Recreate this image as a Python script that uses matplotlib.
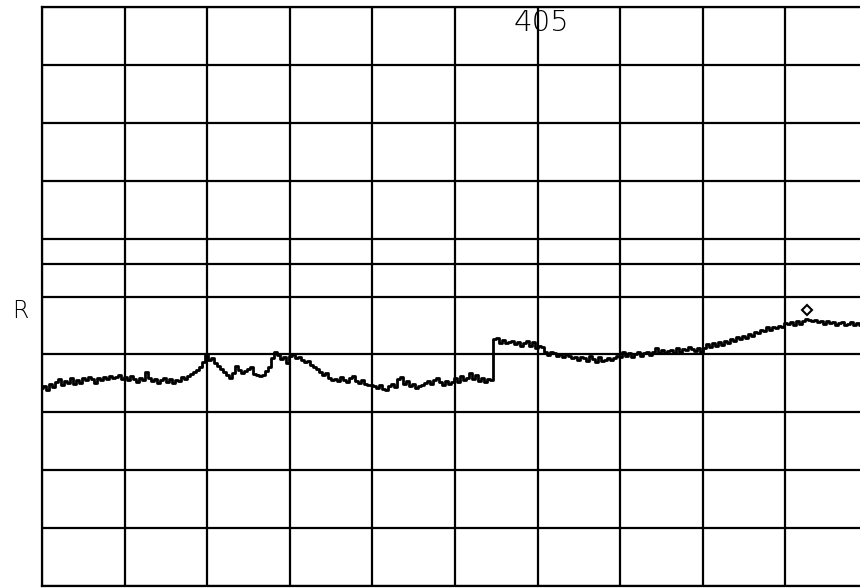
import numpy as np
import matplotlib
matplotlib.use("Agg")
import matplotlib.pyplot as plt

# 扫描迹线电平 (dB, 参考电平在顶部, 10 dB/格), 每个采样点间隔约 0.036 格
trace_db = [
    -65.8, -65.5, -66.1, -65.1, -65.6, -64.8, -64.2, -65.3, -64.6, -64.9, -64.1, -65.1,
    -64.4, -64.9, -64.1, -64.4, -63.9, -64.2, -64.9, -64.1, -64.4, -63.9, -64.2, -63.7,
    -64.1, -63.9, -63.6, -64.2, -63.9, -64.4, -63.7, -64.2, -64.8, -64.1, -64.4, -63.0,
    -64.1, -64.6, -64.2, -64.9, -64.4, -64.1, -64.8, -64.2, -64.9, -64.4, -64.6, -63.9,
    -64.2, -63.7, -63.4, -63.0, -62.7, -62.2, -61.3, -60.1, -61.0, -60.6, -61.5, -62.0,
    -62.5, -63.0, -63.6, -64.1, -63.2, -62.0, -62.7, -63.2, -62.9, -62.5, -62.2, -63.4,
    -63.6, -63.7, -63.6, -62.9, -62.2, -60.6, -59.6, -60.1, -60.8, -60.4, -61.5, -60.3,
    -59.9, -60.6, -60.4, -61.0, -61.3, -61.1, -61.8, -62.2, -62.5, -63.0, -63.6, -63.2,
    -64.1, -64.4, -64.2, -64.6, -63.9, -64.4, -64.8, -64.1, -63.7, -64.6, -64.9, -64.4,
    -65.1, -65.3, -65.3, -65.5, -65.8, -65.3, -66.0, -66.1, -65.5, -65.1, -65.6, -64.2,
    -63.9, -65.1, -64.6, -65.5, -65.1, -65.8, -65.5, -65.3, -64.9, -64.6, -65.1, -64.4,
    -64.1, -64.8, -65.3, -64.6, -65.1, -64.8, -64.1, -64.8, -63.7, -64.4, -64.1, -63.2,
    -64.2, -63.6, -64.6, -64.1, -64.8, -64.2, -64.4, -57.3, -57.2, -58.0, -57.5, -58.0,
    -57.9, -57.7, -58.2, -57.9, -58.5, -58.0, -57.7, -58.5, -57.9, -58.9, -58.5, -58.7,
    -59.6, -60.1, -59.6, -59.8, -60.3, -59.9, -60.4, -59.9, -60.3, -60.6, -60.4, -61.0,
    -60.4, -60.6, -61.1, -60.3, -60.8, -61.3, -60.4, -61.1, -61.0, -60.6, -61.0, -60.6,
    -60.3, -60.4, -59.6, -60.3, -59.8, -60.4, -59.9, -59.6, -60.3, -59.8, -59.6, -60.1,
    -59.6, -58.9, -59.8, -59.2, -59.8, -59.4, -59.2, -59.8, -58.9, -59.6, -59.1, -59.2,
    -58.7, -59.1, -59.4, -58.9, -59.6, -58.9, -58.2, -58.7, -58.0, -58.5, -57.9, -58.4,
    -57.7, -58.0, -57.3, -57.7, -57.0, -57.3, -56.8, -57.2, -56.5, -56.8, -56.1, -56.3,
    -55.8, -56.0, -55.3, -55.8, -55.3, -55.4, -55.1, -55.3, -54.6, -54.7, -54.4, -54.9,
    -54.2, -54.7, -54.2, -53.9, -54.1, -54.2, -54.1, -54.4, -54.2, -54.7, -54.2, -54.6,
    -54.4, -54.9, -54.6, -54.4, -54.9, -54.7, -54.4, -54.9, -54.6, -54.9,
]
point_step = 0.0363          # 格/点
ref_line_db = -44.4          # 额外的参考线
marker_idx = 255
marker_db = -52.3
top_label = "405"
side_label = "R"

x = np.arange(len(trace_db)) * point_step

fig = plt.figure(figsize=(8.6, 5.88), dpi=100)
# 右侧网格超出画面被裁掉
ax = fig.add_axes([42 / 860, 2 / 588, 826 / 860, 579 / 588])
ax.set_xlim(0, 10)
ax.set_ylim(-100, 0)

for gx in range(11):
    ax.axvline(gx, color="black", lw=1.6)
for gy in range(-100, 1, 10):
    ax.axhline(gy, color="black", lw=1.6)
ax.axhline(ref_line_db, color="black", lw=1.6)

ax.plot(x, trace_db, color="black", lw=2.0, drawstyle="steps-mid")
ax.plot(x[marker_idx], marker_db, marker="D", ms=5.5, mfc="white", mec="black", mew=1.5)

ax.text(6.05, -2.7, top_label, ha="center", va="center", fontsize=21,
        family="DejaVu Sans", fontweight="light")
fig.text(20 / 860, 1 - 311 / 588, side_label, ha="center", va="center", fontsize=17,
         family="DejaVu Sans", fontweight="light")

ax.set_xticks([])
ax.set_yticks([])
for s in ax.spines.values():
    s.set_linewidth(1.6)

fig.savefig("out.png", dpi=100)
